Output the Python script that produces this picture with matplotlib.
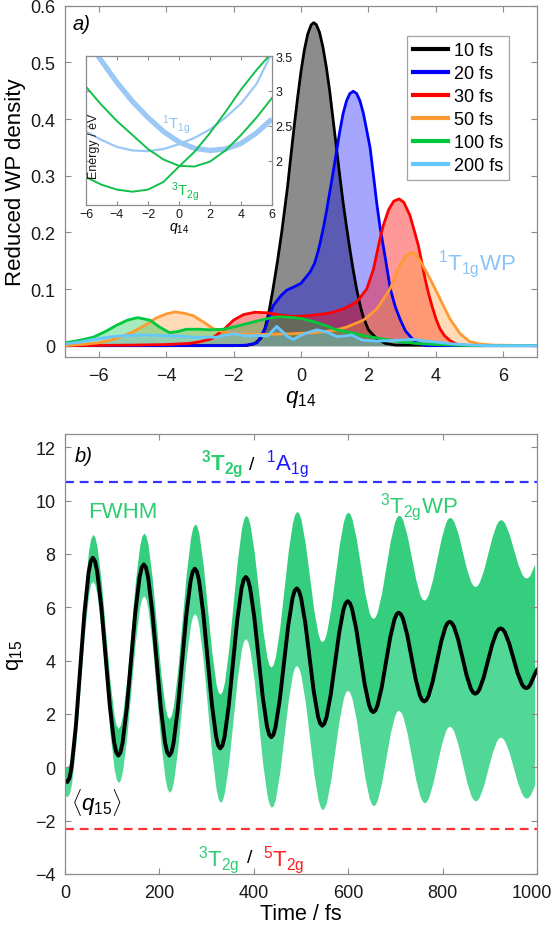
import numpy as np
import matplotlib
matplotlib.use("Agg")
import matplotlib.pyplot as plt
from matplotlib.transforms import ScaledTranslation

plt.rcParams['font.family'] = ['Liberation Sans', 'DejaVu Sans']
plt.rcParams['mathtext.fontset'] = 'custom'
plt.rcParams['mathtext.rm'] = 'Liberation Sans'
plt.rcParams['mathtext.it'] = 'Liberation Sans:italic'
plt.rcParams['mathtext.bf'] = 'Liberation Sans:bold'
plt.rcParams['mathtext.sf'] = 'Liberation Sans'

# ---------------- panel a) : reduced WP densities ----------------
q10 = [-7, -2, -1.6, -1.4, -1.2, -1.07, -0.95, -0.83, -0.7, -0.57, -0.4, -0.3, -0.2, -0.1, 0.0, 0.1, 0.2, 0.3,
       0.375, 0.45, 0.55, 0.65, 0.75, 0.85, 0.95, 1.05, 1.15, 1.25, 1.35, 1.45, 1.55, 1.65, 1.75, 1.85, 2.0,
       2.25, 2.5, 2.8, 7]
d10 = [0, 0, 0.0005, 0.003, 0.012, 0.03, 0.06, 0.10, 0.148, 0.201, 0.28, 0.335, 0.388, 0.438, 0.484, 0.522,
       0.550, 0.566, 0.570, 0.567, 0.553, 0.527, 0.492, 0.45, 0.40, 0.35, 0.30, 0.252, 0.21, 0.17, 0.133, 0.10,
       0.072, 0.05, 0.028, 0.012, 0.004, 0.001, 0]

q20 = [-7, -2, -1.6, -1.3, -1.07, -0.95, -0.82, -0.6, -0.42, -0.2, 0.0, 0.27, 0.4, 0.5, 0.58, 0.66, 0.75, 0.85,
       0.95, 1.07, 1.15, 1.25, 1.35, 1.45, 1.55, 1.65, 1.75, 1.85, 1.95, 2.05, 2.15, 2.25, 2.35, 2.5, 2.65, 2.8,
       2.95, 3.1, 3.23, 3.4, 3.7, 7]
d20 = [0, 0, 0.001, 0.005, 0.03, 0.05, 0.071, 0.088, 0.098, 0.104, 0.11, 0.13, 0.145, 0.165, 0.185, 0.207,
       0.235, 0.27, 0.305, 0.349, 0.378, 0.41, 0.432, 0.445, 0.449, 0.445, 0.432, 0.41, 0.38, 0.349, 0.30, 0.25,
       0.207, 0.155, 0.10, 0.068, 0.045, 0.026, 0.017, 0.006, 0, 0]

q30 = [-7, -5, -4, -3.3, -3.0, -2.66, -2.3, -2.0, -1.7, -1.36, -1.0, -0.6, -0.3, 0.0, 0.4, 0.8, 1.0, 1.26, 1.65,
       1.95, 2.15, 2.34, 2.44, 2.6, 2.75, 2.91, 3.05, 3.23, 3.35, 3.48, 3.58, 3.68, 3.78, 3.88, 4.0, 4.12, 4.25,
       4.42, 4.6, 5.0, 7]
d30 = [0, 0.001, 0.002, 0.004, 0.007, 0.012, 0.028, 0.045, 0.055, 0.059, 0.058, 0.054, 0.052, 0.052, 0.054,
       0.057, 0.06, 0.065, 0.077, 0.10, 0.135, 0.188, 0.212, 0.24, 0.255, 0.259, 0.253, 0.23, 0.205, 0.177,
       0.148, 0.118, 0.093, 0.071, 0.048, 0.03, 0.018, 0.009, 0.003, 0, 0]

q50 = [-7, -6.5, -6.0, -5.5, -5.0, -4.6, -4.29, -4.0, -3.74, -3.45, -3.2, -2.9, -2.6, -2.3, -2.0, -1.5, -1.0,
       -0.3, 0.4, 1.0, 1.36, 1.85, 2.25, 2.64, 2.94, 3.1, 3.28, 3.43, 3.58, 3.83, 4.12, 4.42, 4.72, 5.01, 5.3,
       5.7, 7]
d50 = [0, 0.002, 0.005, 0.012, 0.024, 0.037, 0.049, 0.056, 0.0595, 0.057, 0.053, 0.042, 0.03, 0.024, 0.021,
       0.02, 0.02, 0.021, 0.023, 0.027, 0.033, 0.045, 0.065, 0.10, 0.142, 0.158, 0.165, 0.159, 0.145, 0.118,
       0.083, 0.047, 0.021, 0.007, 0.003, 0.001, 0]

q100 = [-7, -6.6, -6.16, -5.8, -5.47, -5.15, -4.85, -4.48, -4.2, -3.9, -3.65, -3.4, -3.0, -2.7, -2.3, -2.0, -1.6,
        -1.2, -0.9, -0.6, -0.3, 0.0, 0.4, 0.8, 1.0, 1.4, 1.85, 2.3, 2.84, 3.4, 4.0, 5.0, 7]
d100 = [0.005, 0.009, 0.015, 0.025, 0.036, 0.045, 0.0495, 0.045, 0.033, 0.023, 0.025, 0.029, 0.029, 0.028,
        0.029, 0.033, 0.039, 0.045, 0.049, 0.051, 0.050, 0.048, 0.042, 0.034, 0.029, 0.024, 0.018, 0.013,
        0.008, 0.004, 0.002, 0, 0]

q200 = [-7, -6.6, -6.16, -5.6, -5.17, -4.6, -4.17, -3.6, -3.18, -2.49, -2.2, -2.0, -1.8, -1.6, -1.3, -1.0, -0.85,
        -0.72, -0.57, -0.4, -0.22, -0.05, 0.15, 0.47, 0.77, 1.06, 1.3, 1.5, 1.8, 2.2, 2.7, 3.3, 3.9, 4.5, 5.1,
        5.6, 7]
d200 = [0.003, 0.006, 0.011, 0.016, 0.018, 0.019, 0.018, 0.017, 0.015, 0.015, 0.019, 0.021, 0.019, 0.017,
        0.018, 0.017, 0.026, 0.034, 0.026, 0.016, 0.011, 0.017, 0.022, 0.028, 0.024, 0.016, 0.017, 0.019, 0.01,
        0.008, 0.009, 0.011, 0.007, 0.003, 0.001, 0, 0]

wp_labels = ['10 fs', '20 fs', '30 fs', '50 fs', '100 fs', '200 fs']
wp_colors = ['#000000', '#0000FF', '#FF0000', '#FF9933', '#00C83C', '#66C8FF']
wp_fill_alpha = [0.45, 0.35, 0.4, 0.35, 0.35, 0.35]

# inset: potential energy cuts along q14
q_inset = [-6, -5, -4, -3, -2, -1, 0, 1, 2, 3, 4, 5, 6]
E_3T2g_a = [3.06, 2.80, 2.57, 2.37, 2.17, 2.02, 1.93, 1.92, 1.99, 2.15, 2.37, 2.62, 2.90]
E_3T2g_b = [1.77, 1.66, 1.59, 1.56, 1.59, 1.70, 1.92, 2.13, 2.40, 2.70, 3.02, 3.30, 3.55]
E_1T1g_a = [2.42, 2.30, 2.20, 2.15, 2.14, 2.17, 2.24, 2.33, 2.45, 2.62, 2.82, 3.10, 3.55]
E_1T1g_b = [3.75, 3.43, 3.12, 2.85, 2.62, 2.42, 2.27, 2.18, 2.15, 2.17, 2.25, 2.40, 2.60]

# ---------------- panel b) : <q15> and FWHM of 3T2g WP ----------------
time_fs = [0, 5, 9.5, 14, 23, 32, 41, 50, 54.5, 59,
           63.5, 68, 77, 86, 95, 104, 108.5, 113,
           117.5, 122, 131, 140, 149, 158, 162.5, 167,
           171.5, 176, 185, 194, 203, 212, 216.5, 221,
           225.5, 230, 239, 248, 257, 266, 270.5, 275,
           279.5, 284, 293, 302, 311, 320, 324.5, 329,
           333.5, 338, 347, 356, 365, 374, 378.5, 383,
           387.5, 392, 401, 410, 419, 428, 432.5, 437,
           441.5, 446, 455, 464, 473, 482, 486.5, 491,
           495.5, 500, 509, 518, 527, 536, 540.5, 545,
           549.5, 554, 563, 572, 581, 590, 594.5, 599,
           603.5, 608, 617, 626, 635, 644, 648.5, 653,
           657.5, 662, 671, 680, 689, 698, 702.5, 707,
           711.5, 716, 725, 734, 743, 752, 756.5, 761,
           765.5, 770, 779, 788, 797, 806, 810.5, 815,
           819.5, 824, 833, 842, 851, 860, 864.5, 869,
           873.5, 878, 887, 896, 905, 914, 918.5, 923,
           927.5, 932, 941, 950, 959, 968, 972.5, 977,
           981.5, 986, 995, 1000]
q15_mean = [-0.50, -0.55, -0.41, 0.01, 1.55, 3.66, 5.76, 7.30, 7.72, 7.86,
            7.73, 7.36, 6.01, 4.15, 2.30, 0.94, 0.57, 0.44,
            0.56, 0.92, 2.23, 4.03, 5.82, 7.13, 7.49, 7.61,
            7.49, 7.13, 5.82, 4.03, 2.23, 0.92, 0.56, 0.44,
            0.56, 0.91, 2.19, 3.95, 5.70, 6.98, 7.33, 7.45,
            7.34, 7.00, 5.77, 4.08, 2.40, 1.16, 0.82, 0.71,
            0.82, 1.14, 2.32, 3.93, 5.53, 6.71, 7.03, 7.14,
            7.04, 6.74, 5.64, 4.14, 2.63, 1.53, 1.23, 1.13,
            1.22, 1.50, 2.53, 3.92, 5.32, 6.34, 6.62, 6.71,
            6.62, 6.36, 5.42, 4.14, 2.85, 1.91, 1.65, 1.56,
            1.64, 1.87, 2.73, 3.90, 5.06, 5.92, 6.15, 6.23,
            6.16, 5.95, 5.19, 4.15, 3.11, 2.35, 2.14, 2.07,
            2.13, 2.32, 3.00, 3.94, 4.87, 5.55, 5.74, 5.80,
            5.74, 5.58, 4.97, 4.14, 3.30, 2.69, 2.53, 2.47,
            2.52, 2.67, 3.22, 3.97, 4.71, 5.26, 5.41, 5.46,
            5.41, 5.28, 4.79, 4.11, 3.44, 2.94, 2.81, 2.76,
            2.80, 2.92, 3.37, 3.99, 4.60, 5.05, 5.17, 5.21,
            5.17, 5.06, 4.65, 4.09, 3.53, 3.12, 3.01, 2.97,
            3.00, 3.11, 3.48, 3.65]
q15_fwhm = [1.10, 1.10, 1.15, 1.21, 1.32, 1.43, 1.54, 1.65, 1.70, 1.76,
            1.78, 1.81, 1.85, 1.90, 1.95, 1.99, 2.01, 2.04,
            2.06, 2.09, 2.15, 2.20, 2.25, 2.31, 2.33, 2.36,
            2.39, 2.43, 2.49, 2.56, 2.63, 2.69, 2.72, 2.76,
            2.81, 2.86, 2.96, 3.06, 3.16, 3.26, 3.31, 3.36,
            3.42, 3.48, 3.59, 3.71, 3.83, 3.94, 4.00, 4.06,
            4.10, 4.15, 4.25, 4.34, 4.43, 4.53, 4.57, 4.62,
            4.67, 4.73, 4.83, 4.94, 5.05, 5.15, 5.20, 5.26,
            5.30, 5.35, 5.43, 5.52, 5.61, 5.69, 5.73, 5.78,
            5.82, 5.87, 5.95, 6.04, 6.13, 6.21, 6.25, 6.30,
            6.33, 6.36, 6.43, 6.49, 6.55, 6.62, 6.65, 6.68,
            6.71, 6.74, 6.79, 6.85, 6.91, 6.96, 6.99, 7.02,
            7.04, 7.07, 7.12, 7.17, 7.22, 7.27, 7.29, 7.32,
            7.34, 7.37, 7.41, 7.46, 7.51, 7.55, 7.57, 7.60,
            7.62, 7.64, 7.68, 7.72, 7.76, 7.80, 7.82, 7.84,
            7.85, 7.87, 7.91, 7.94, 7.97, 8.01, 8.02, 8.04,
            8.05, 8.06, 8.08, 8.10, 8.12, 8.14, 8.15, 8.16,
            8.17, 8.18, 8.19, 8.21, 8.23, 8.24, 8.25, 8.26,
            8.26, 8.27, 8.29, 8.30]
crossing_1A1g = 10.7
crossing_5T2g = -2.3

GREEN_TXT = '#2ECC71'
SPINE = '#8C8C8C'

W, H = 553, 929
fig = plt.figure(figsize=(W / 100, H / 100), dpi=100)

def style_axes(ax, size=13, pad=7):
    for s in ax.spines.values():
        s.set_color(SPINE)
        s.set_linewidth(0.9)
    ax.tick_params(direction='in', top=True, right=True, length=4.5, width=0.8,
                   color=SPINE, labelsize=size, pad=pad, labelcolor='#1a1a1a')

# ---- top axes
ax1 = fig.add_axes([65 / W, 1 - 358 / H, 472 / W, 351.3 / H])
curves = [(q10, d10), (q20, d20), (q30, d30), (q50, d50), (q100, d100), (q200, d200)]
for (qq, dd), lab, col, al in zip(curves, wp_labels, wp_colors, wp_fill_alpha):
    ax1.fill_between(qq, 0, dd, color=col, alpha=al, linewidth=0)
    ax1.plot(qq, dd, color=col, lw=2.0, label=lab)
ax1.set_xlim(-7, 7)
ax1.set_ylim(-0.02, 0.6)
ax1.set_xticks([-6, -4, -2, 0, 2, 4, 6])
ax1.set_yticks([0, 0.1, 0.2, 0.3, 0.4, 0.5, 0.6])
ax1.set_yticklabels(['0', '0.1', '0.2', '0.3', '0.4', '0.5', '0.6'])
style_axes(ax1)
ax1.set_xlabel(r'$q_{14}$', fontsize=16, labelpad=3)
ax1.set_ylabel('Reduced WP density', fontsize=16, labelpad=3)
ax1.text(0.017, 0.948, 'a)', transform=ax1.transAxes, fontsize=14.5, style='italic', va='center', ha='left')
ax1.text(4.07, 0.135, r'$^{1}$T$_{\mathrm{1g}}$WP', color='#8CC3F5', fontsize=16, ha='left', va='baseline')
leg = ax1.legend(handles=[plt.Line2D([], [], color=c, lw=3) for c in wp_colors], labels=wp_labels,
                 loc='upper right', bbox_to_anchor=(0.941, 0.914), fontsize=13, frameon=True,
                 fancybox=False, edgecolor=SPINE, borderpad=0.35, labelspacing=0.33, handlelength=1.95,
                 handletextpad=0.3, borderaxespad=0)
leg.get_frame().set_linewidth(0.9)

# ---- inset
axi = fig.add_axes([86 / W, 1 - 206 / H, 186 / W, 149 / H])
axi.plot(q_inset, E_1T1g_b, color='#9CC8F5', lw=3.8, solid_capstyle='butt')
axi.plot(q_inset, E_1T1g_a, color='#9CC8F5', lw=1.6)
axi.plot(q_inset, E_3T2g_a, color='#12BF4A', lw=1.4)
axi.plot(q_inset, E_3T2g_b, color='#12BF4A', lw=1.4)
axi.set_xlim(-6, 6)
axi.set_ylim(1.37, 3.5)
axi.set_xticks([-6, -4, -2, 0, 2, 4, 6])
axi.set_yticks([2, 2.5, 3, 3.5])
axi.set_yticklabels(['2', '2.5', '3', '3.5'])
style_axes(axi, size=9, pad=2.5)
axi.tick_params(labelleft=False, labelright=True, length=3)
axi.set_xlabel(r'$q_{14}$', fontsize=10, labelpad=0)
axi.text(0.043, 0.40, 'Energy / eV', transform=axi.transAxes, rotation=90, fontsize=9,
         ha='center', va='center', color='#1a1a1a')
axi.text(-0.19, 2.53, r'$^{1}$T$_{\mathrm{1g}}$', color='#8CC3F5', fontsize=10.5, ha='center', va='center')
axi.text(0.39, 1.57, r'$^{3}$T$_{\mathrm{2g}}$', color='#12BF4A', fontsize=10.5, ha='center', va='center')

# ---- bottom axes
ax2 = fig.add_axes([65 / W, 1 - 875 / H, 472 / W, 440 / H])
t = np.array(time_fs)
m = np.array(q15_mean)
hw = np.array(q15_fwhm) / 2.0
ax2.fill_between(t[:-1], m[:-1], (m + hw)[:-1], color='#34CE7E', linewidth=0)
ax2.fill_between(t[:-1], (m - hw)[:-1], m[:-1], color='#52D896', linewidth=0)
ax2.plot(t, m, color='k', lw=2.8, solid_joinstyle='round')
ax2.axhline(crossing_1A1g, color='#3333FF', lw=1.6, ls=(0, (4, 2.6)))
ax2.axhline(crossing_5T2g, color='#FF3333', lw=1.6, ls=(0, (4, 2.6)))
ax2.set_xlim(0, 1000)
ax2.set_ylim(-4, 12.5)
ax2.set_xticks([0, 200, 400, 600, 800, 1000])
ax2.set_yticks([-4, -2, 0, 2, 4, 6, 8, 10, 12])
style_axes(ax2)
ax2.set_xlabel('Time / fs', fontsize=15.5, labelpad=2)
ax2.set_ylabel(r'q$_{15}$', fontsize=16, labelpad=6)
last = ax2.get_xticklabels()[-1]
last.set_transform(last.get_transform() + ScaledTranslation(-5 / 100, 0, fig.dpi_scale_trans))
ax2.text(40, 11.7, 'b)', fontsize=14.5, style='italic', ha='center', va='center')
ax2.text(333, 11.43, r'$\mathbf{{}^{3}T_{2g}}$', color=GREEN_TXT, fontsize=16, ha='center', va='center')
ax2.text(396, 11.37, '/', color='k', fontsize=14, ha='center', va='center')
ax2.text(471, 11.43, r'$^{1}$A$_{\mathrm{1g}}$', color='#1a1aff', fontsize=16, ha='center', va='center')
ax2.text(122, 9.6, 'FWHM', color=GREEN_TXT, fontsize=16, ha='center', va='center')
ax2.text(750, 9.79, r'$^{3}$T$_{\mathrm{2g}}$WP', color=GREEN_TXT, fontsize=16, ha='center', va='center')
ax2.text(67, -1.3, r'$\langle q_{15}\rangle$', color='k', fontsize=16, ha='center', va='center')
ax2.text(326, -3.44, r'$^{3}$T$_{\mathrm{2g}}$', color=GREEN_TXT, fontsize=16, ha='center', va='center')
ax2.text(392, -3.38, '/', color='k', fontsize=14, ha='center', va='center')
ax2.text(463, -3.44, r'$^{5}$T$_{\mathrm{2g}}$', color='#FF2020', fontsize=16, ha='center', va='center')

fig.savefig('out.png', dpi=100)
